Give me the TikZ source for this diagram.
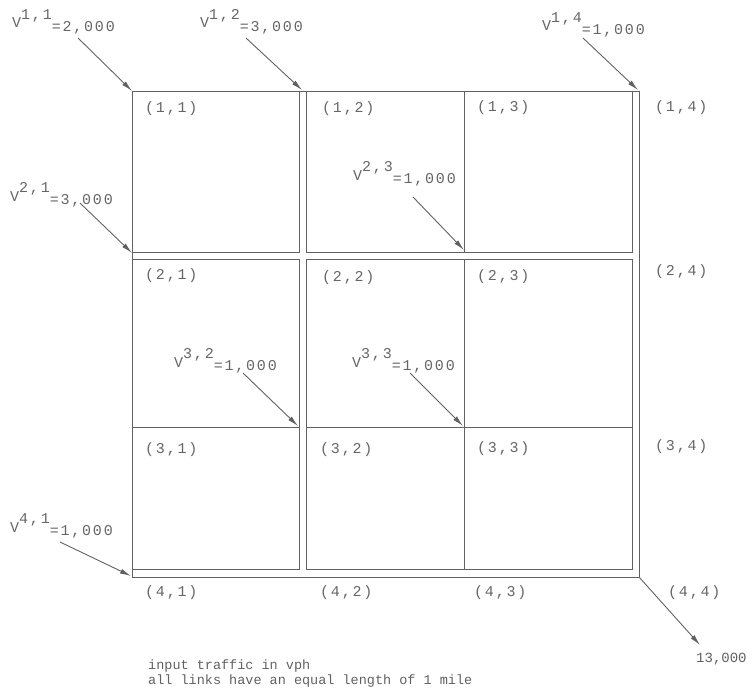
\documentclass[tikz,border=0pt]{standalone}
\usepackage{fontspec}
\usetikzlibrary{arrows.meta}
\newfontfamily\twfont[LetterSpace=12]{Liberation Mono}
\newfontfamily\twsmall{Liberation Mono}
\newcommand\vflow[2]{V\raisebox{0.55em}{#1}\raisebox{-0.25em}{=#2}}
\begin{document}
\begin{tikzpicture}[x=1pt,y=-1pt,
  street/.style={draw=black!62, line width=0.9pt},
  inflow/.style={draw=black!62, line width=0.9pt, -{Latex[length=11pt,width=5pt]}},
  nodelab/.style={font=\fontsize{15}{17}\selectfont\twfont, text=black!60, inner sep=0pt, anchor=base west},
  note/.style={font=\fontsize{13.5}{15}\selectfont\twsmall, text=black!62, inner sep=0pt, anchor=base west}]
\useasboundingbox (0,0) rectangle (753,693);

% streets
\draw[street] (132,91) rectangle (639,577);
\draw[street] (132,91) rectangle (299,252);
\draw[street] (306,91) rectangle (632,252);
\draw[street] (464,91) -- (464,252);
\draw[street] (132,259) rectangle (299,569);
\draw[street] (306,259) rectangle (632,569);
\draw[street] (132,427) -- (299,427);
\draw[street] (306,427) -- (632,427);
\draw[street] (464,259) -- (464,569);

% intersection labels
\node[nodelab] (n11) at (145,113) {(1,1)};
\node[nodelab] (n12) at (322,113) {(1,2)};
\node[nodelab] (n13) at (477,112) {(1,3)};
\node[nodelab] (n14) at (655,111) {(1,4)};
\node[nodelab] (n21) at (145,279) {(2,1)};
\node[nodelab] (n22) at (322,281) {(2,2)};
\node[nodelab] (n23) at (477,280) {(2,3)};
\node[nodelab] (n24) at (655,275) {(2,4)};
\node[nodelab] (n31) at (145,453) {(3,1)};
\node[nodelab] (n32) at (320,453) {(3,2)};
\node[nodelab] (n33) at (477,452) {(3,3)};
\node[nodelab] (n34) at (655,450) {(3,4)};
\node[nodelab] (n41) at (145,596) {(4,1)};
\node[nodelab] (n42) at (320,596) {(4,2)};
\node[nodelab] (n43) at (474,596) {(4,3)};
\node[nodelab] (n44) at (668,596) {(4,4)};

% input flow labels
\node[nodelab] (v11) at (12,28) {\vflow{1,1}{2,000}};
\node[nodelab] (v12) at (200,28) {\vflow{1,2}{3,000}};
\node[nodelab] (v14) at (542,31) {\vflow{1,4}{1,000}};
\node[nodelab] (v21) at (10,201) {\vflow{2,1}{3,000}};
\node[nodelab] (v23) at (353,180) {\vflow{2,3}{1,000}};
\node[nodelab] (v32) at (174,367) {\vflow{3,2}{1,000}};
\node[nodelab] (v33) at (352,367) {\vflow{3,3}{1,000}};
\node[nodelab] (v41) at (10,532) {\vflow{4,1}{1,000}};
\node[note, font=\fontsize{14}{16}\selectfont\twsmall] (out) at (696,662) {13,000};

% arrow end points
\coordinate (s11) at (78,38);   \coordinate (t11) at (132,91);
\coordinate (s12) at (246,38);  \coordinate (t12) at (302,90);
\coordinate (s14) at (583,38);  \coordinate (t14) at (638,90);
\coordinate (s21) at (80,203);  \coordinate (t21) at (132,253);
\coordinate (s23) at (413,197); \coordinate (t23) at (464,250);
\coordinate (s32) at (243,373); \coordinate (t32) at (298,426);
\coordinate (s33) at (410,373); \coordinate (t33) at (463,426);
\coordinate (s41) at (60,542);  \coordinate (t41) at (131,576);
\coordinate (s44) at (639,577); \coordinate (t44) at (700,645);

\draw[inflow] (s11) -- (t11);
\draw[inflow] (s12) -- (t12);
\draw[inflow] (s14) -- (t14);
\draw[inflow] (s21) -- (t21);
\draw[inflow] (s23) -- (t23);
\draw[inflow] (s32) -- (t32);
\draw[inflow] (s33) -- (t33);
\draw[inflow] (s41) -- (t41);
\draw[inflow] (s44) -- (t44);

% notes
\node[note] (note1) at (148,669) {input traffic in vph};
\node[note] (note2) at (148,684) {all links have an equal length of 1 mile};
\end{tikzpicture}
\end{document}
